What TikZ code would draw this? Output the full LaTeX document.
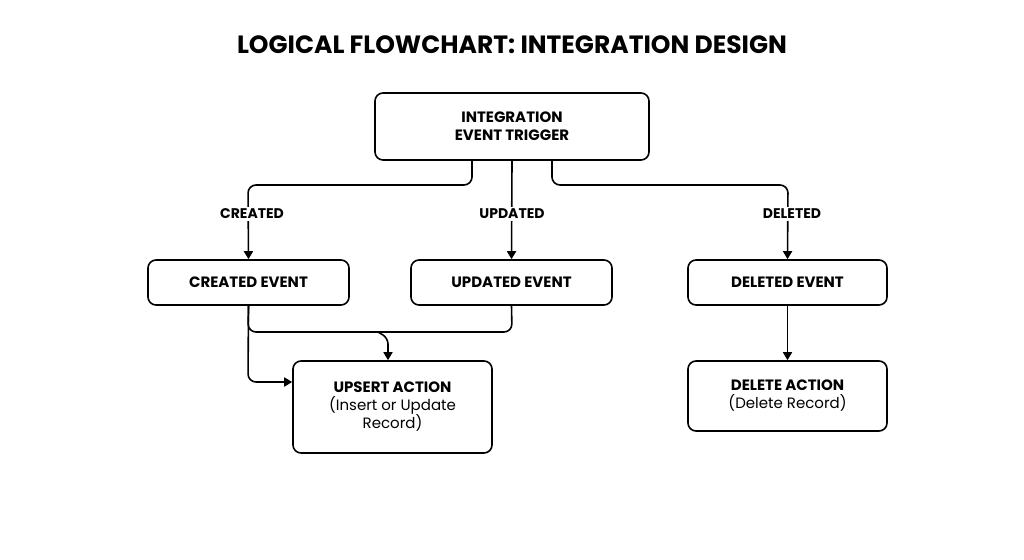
\documentclass[tikz,border=0pt]{standalone}
\usepackage{fontspec}
\setmainfont{Poppins}
\usetikzlibrary{arrows.meta}
\begin{document}
\begin{tikzpicture}[x=1pt,y=-1pt,
  box/.style={draw,line width=1.6pt,rounded corners=8pt,align=center,font=\bfseries\fontsize{15}{18}\selectfont},
  lbl/.style={font=\bfseries\fontsize{14}{17}\selectfont,fill=white,inner sep=2pt},
  con/.style={line width=1.6pt,rounded corners=8pt},
  arr/.style={con,-{Triangle[length=8pt,width=9pt]}}]
\fill[white] (0,0) rectangle (1024,559);
\node[font=\bfseries\fontsize{25}{30}\selectfont] (title) at (512,45) {LOGICAL FLOWCHART: INTEGRATION DESIGN};
\node[box,minimum width=274pt,minimum height=67pt] (top) at (512,126.5) {INTEGRATION\\EVENT TRIGGER};
\node[box,minimum width=201pt,minimum height=45pt] (ce) at (248.5,282.5) {CREATED EVENT};
\node[box,minimum width=201pt,minimum height=45pt] (ue) at (511.5,282.5) {UPDATED EVENT};
\node[box,minimum width=199pt,minimum height=45pt] (de) at (787.5,282.5) {DELETED EVENT};
\node[box,minimum width=199pt,minimum height=92pt] (ua) at (392.5,407) {UPSERT ACTION\\{\mdseries (Insert or Update}\\{\mdseries Record)}};
\node[box,minimum width=199pt,minimum height=70pt] (da) at (787.5,396) {DELETE ACTION\\{\mdseries (Delete Record)}};
\coordinate (m) at (388,332);
\draw[arr] (top.south -| 472,0) -- (472,185) -- (248,185) -- (ce.north);
\draw[arr] (top.south) -- (ue.north);
\draw[arr] (top.south -| 552,0) -- (552,185) -- (788,185) -- (de.north);
\node[lbl] (l1) at (252,214) {CREATED};
\node[lbl] (l2) at (512,214) {UPDATED};
\node[lbl] (l3) at (792,214) {DELETED};
\draw[con] (ce.south) -- (248,332) -- (m);
\draw[con] (ue.south) -- (512,332) -- (m);
\draw[arr,rounded corners=6pt] (378,332) -- (388,338) -- (ua.north -| m);
\draw[arr] (ce.south) -- (248,382) -- (ua.west |- 0,382);
\draw[arr] (de.south) -- (da.north);
\end{tikzpicture}
\end{document}
